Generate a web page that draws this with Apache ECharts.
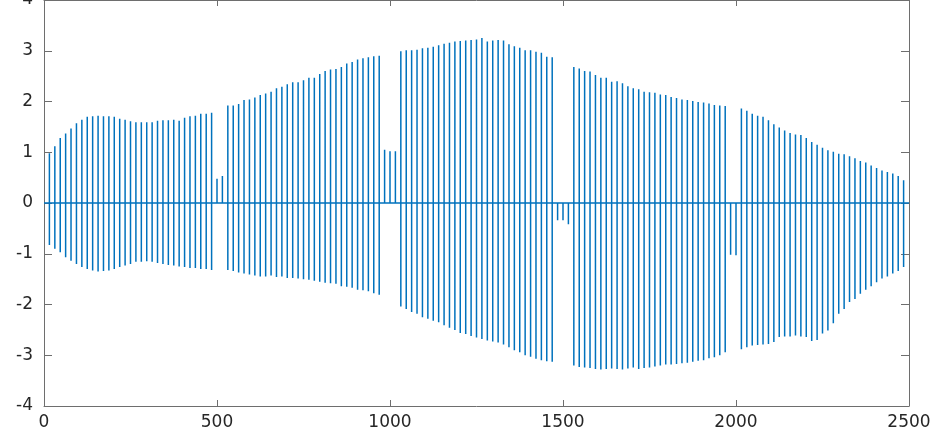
<!DOCTYPE html>
<html>
<head>
<meta charset="utf-8">
<script src="https://cdn.jsdelivr.net/npm/echarts@6/dist/echarts.min.js"></script>
<style>
  html, body { margin: 0; padding: 0; background: #ffffff; }
  #chart { width: 943px; height: 433px; }
</style>
</head>
<body>
<div id="chart"></div>
<script>
// Pulse train: sample position of each pulse, its positive peak and its negative peak.
const pulseX = [
  15.6, 31.3, 46.9, 62.5, 78.1, 93.8, 109.4, 125,
  140.6, 156.3, 171.9, 187.5, 203.1, 218.8, 234.4, 250,
  265.6, 281.3, 296.9, 312.5, 328.1, 343.8, 359.4, 375,
  390.6, 406.3, 421.9, 437.5, 453.1, 468.8, 484.4, 500,
  515.6, 531.3, 546.9, 562.5, 578.1, 593.8, 609.4, 625,
  640.6, 656.3, 671.9, 687.5, 703.1, 718.8, 734.4, 750,
  765.6, 781.3, 796.9, 812.5, 828.1, 843.8, 859.4, 875,
  890.6, 906.3, 921.9, 937.5, 953.1, 968.8, 984.4, 1000,
  1015.6, 1031.3, 1046.9, 1062.5, 1078.1, 1093.8, 1109.4, 1125,
  1140.6, 1156.3, 1171.9, 1187.5, 1203.1, 1218.8, 1234.4, 1250,
  1265.6, 1281.3, 1296.9, 1312.5, 1328.1, 1343.8, 1359.4, 1375,
  1390.6, 1406.3, 1421.9, 1437.5, 1453.1, 1468.8, 1484.4, 1500,
  1515.6, 1531.3, 1546.9, 1562.5, 1578.1, 1593.8, 1609.4, 1625,
  1640.6, 1656.3, 1671.9, 1687.5, 1703.1, 1718.8, 1734.4, 1750,
  1765.6, 1781.3, 1796.9, 1812.5, 1828.1, 1843.8, 1859.4, 1875,
  1890.6, 1906.3, 1921.9, 1937.5, 1953.1, 1968.8, 1984.4, 2000,
  2015.6, 2031.3, 2046.9, 2062.5, 2078.1, 2093.8, 2109.4, 2125,
  2140.6, 2156.3, 2171.9, 2187.5, 2203.1, 2218.8, 2234.4, 2250,
  2265.6, 2281.3, 2296.9, 2312.5, 2328.1, 2343.8, 2359.4, 2375,
  2390.6, 2406.3, 2421.9, 2437.5, 2453.1, 2468.8, 2484.4
];

const pulseHigh = [
  0.98, 1.12, 1.28, 1.37, 1.47, 1.57, 1.64, 1.70, 1.71, 1.72,
  1.71, 1.71, 1.70, 1.66, 1.64, 1.61, 1.59, 1.59, 1.59, 1.59,
  1.62, 1.63, 1.63, 1.64, 1.62, 1.68, 1.71, 1.72, 1.76, 1.76, 1.78,
  0.48, 0.53,
  1.92, 1.92, 1.95, 2.03, 2.04, 2.08, 2.13, 2.16, 2.19, 2.26,
  2.29, 2.34, 2.38, 2.38, 2.42, 2.47, 2.47, 2.54, 2.60, 2.63,
  2.64, 2.68, 2.75, 2.78, 2.83, 2.85, 2.87, 2.89, 2.90,
  1.05, 1.02, 1.02,
  2.99, 3.01, 3.01, 3.02, 3.05, 3.06, 3.08, 3.11, 3.14, 3.16,
  3.18, 3.19, 3.20, 3.21, 3.22, 3.25, 3.18, 3.20, 3.21, 3.20,
  3.13, 3.09, 3.06, 3.01, 3.01, 2.98, 2.96, 2.88, 2.87,
  0, 0, 0,
  2.68, 2.65, 2.60, 2.59, 2.52, 2.47, 2.47, 2.39, 2.40, 2.36,
  2.30, 2.26, 2.24, 2.19, 2.18, 2.17, 2.14, 2.13, 2.09, 2.07,
  2.04, 2.03, 2.01, 1.99, 1.98, 1.96, 1.93, 1.92, 1.91,
  0, 0,
  1.86, 1.82, 1.76, 1.72, 1.70, 1.63, 1.55, 1.49, 1.43, 1.38,
  1.35, 1.34, 1.28, 1.20, 1.15, 1.09, 1.04, 1.01, 0.97, 0.96,
  0.92, 0.88, 0.83, 0.80, 0.74, 0.69, 0.64, 0.61, 0.58, 0.53, 0.45
];

const pulseLow = [
  -0.83, -0.90, -0.97, -1.07, -1.14, -1.20, -1.26, -1.30, -1.33, -1.35,
  -1.34, -1.33, -1.30, -1.26, -1.23, -1.20, -1.16, -1.16, -1.15, -1.16,
  -1.18, -1.20, -1.22, -1.23, -1.25, -1.26, -1.28, -1.28, -1.30, -1.30, -1.32,
  0, 0,
  -1.32, -1.34, -1.37, -1.39, -1.41, -1.43, -1.45, -1.45, -1.43, -1.46,
  -1.45, -1.48, -1.48, -1.49, -1.50, -1.51, -1.53, -1.55, -1.57, -1.58,
  -1.59, -1.64, -1.65, -1.67, -1.71, -1.72, -1.74, -1.78, -1.81,
  0, 0, 0,
  -2.04, -2.09, -2.15, -2.18, -2.25, -2.28, -2.32, -2.35, -2.41, -2.46,
  -2.50, -2.56, -2.58, -2.62, -2.65, -2.68, -2.71, -2.73, -2.75, -2.79,
  -2.84, -2.90, -2.94, -3.00, -3.03, -3.07, -3.10, -3.12, -3.13,
  -0.34, -0.34, -0.42,
  -3.20, -3.23, -3.24, -3.25, -3.27, -3.28, -3.27, -3.26, -3.27, -3.28,
  -3.26, -3.24, -3.27, -3.25, -3.24, -3.22, -3.20, -3.18, -3.18, -3.17,
  -3.16, -3.15, -3.13, -3.11, -3.10, -3.06, -3.04, -3.00, -2.94,
  -1.02, -1.03,
  -2.88, -2.84, -2.81, -2.80, -2.79, -2.78, -2.74, -2.64, -2.63, -2.63,
  -2.61, -2.63, -2.64, -2.72, -2.70, -2.57, -2.51, -2.37, -2.18, -2.09,
  -1.95, -1.89, -1.79, -1.71, -1.64, -1.56, -1.49, -1.45, -1.39, -1.34, -1.26
];

// The signal rests at zero from the first to the last sample.
const signalStart = 0;
const signalEnd = 2500;

// Axis ticks
const xTicks = [0, 500, 1000, 1500, 2000, 2500];
const yTicks = [-4, -3, -2, -1, 0, 1, 2, 3, 4];

// Trace: each pulse rises from zero to its peak, drops to its trough and returns to zero.
const trace = [[signalStart, 0]];
pulseX.forEach((x, i) => {
  trace.push([x, 0], [x, pulseHigh[i]], [x, pulseLow[i]], [x, 0]);
});
trace.push([signalEnd, 0]);

const frameColor = '#6e6e6e';
const labelColor = '#262626';
const labelFont = 'DejaVu Sans';
const plainNumber = (v) => String(v);

function xAxisDef(position, showLabels) {
  return {
    type: 'value',
    position: position,
    min: xTicks[0],
    max: xTicks[xTicks.length - 1],
    interval: xTicks[1] - xTicks[0],
    axisLine: { show: true, onZero: false, lineStyle: { color: frameColor, width: 1 } },
    axisTick: { show: true, inside: true, length: 6, lineStyle: { color: frameColor, width: 1 } },
    axisLabel: {
      show: showLabels, color: labelColor, fontFamily: labelFont, fontSize: 17,
      margin: 8, formatter: plainNumber
    },
    splitLine: { show: false }
  };
}

function yAxisDef(position, showLabels) {
  return {
    type: 'value',
    position: position,
    min: yTicks[0],
    max: yTicks[yTicks.length - 1],
    interval: yTicks[1] - yTicks[0],
    axisLine: { show: true, onZero: false, lineStyle: { color: frameColor, width: 1 } },
    axisTick: { show: true, inside: true, length: 8, lineStyle: { color: frameColor, width: 1 } },
    axisLabel: {
      show: showLabels, color: labelColor, fontFamily: labelFont, fontSize: 17,
      margin: 11, formatter: plainNumber,
      verticalAlignMaxLabel: 'middle', verticalAlignMinLabel: 'middle'
    },
    splitLine: { show: false }
  };
}

const chart = echarts.init(document.getElementById('chart'), null, { renderer: 'canvas' });
chart.setOption({
  animation: false,
  backgroundColor: '#ffffff',
  grid: { left: 44, right: 34, top: 0, bottom: 27, containLabel: false, outerBoundsMode: 'none' },
  xAxis: [xAxisDef('bottom', true), xAxisDef('top', false)],
  yAxis: [yAxisDef('left', true), yAxisDef('right', false)],
  series: [{
    type: 'line',
    xAxisIndex: 0,
    yAxisIndex: 0,
    data: trace,
    showSymbol: false,
    symbol: 'none',
    silent: true,
    clip: true,
    lineStyle: { color: '#0072BD', width: 1.5 }
  }]
});
</script>
</body>
</html>
